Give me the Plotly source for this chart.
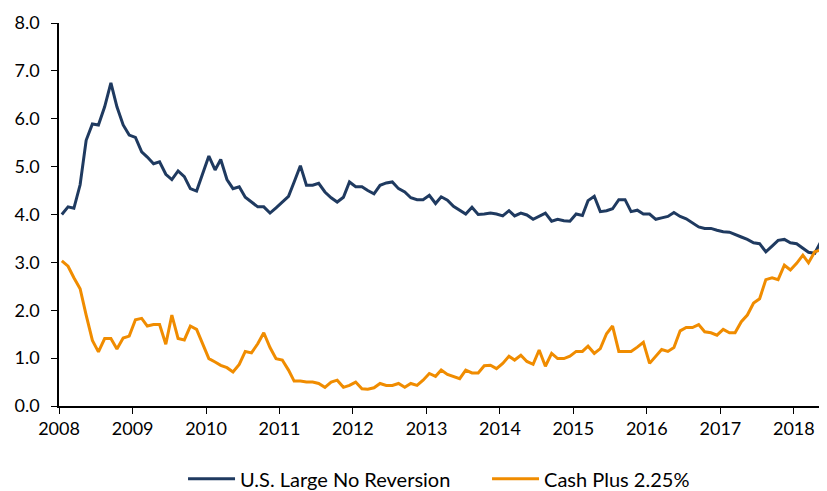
import plotly.graph_objects as go
import pandas as pd

# === 資料 (月資料 2008-01 ~ 2018-06) ===
months = pd.date_range("2008-01-01", periods=126, freq="MS") + pd.Timedelta(days=14)

us_large = [
    4.00, 4.16, 4.13, 4.62, 5.55, 5.89, 5.87, 6.25, 6.75, 6.25, 5.87, 5.66, 5.61, 5.31, 5.20, 5.06, 5.10, 4.84, 4.73, 4.91, 4.79, 4.54, 4.49, 4.86, 5.22,
    4.93, 5.15, 4.73, 4.54, 4.58, 4.36, 4.26, 4.16, 4.16, 4.03, 4.14, 4.26, 4.38, 4.68, 5.02, 4.61, 4.61, 4.65, 4.47, 4.35, 4.26, 4.36, 4.68, 4.58, 4.58,
    4.50, 4.43, 4.61, 4.66, 4.68, 4.54, 4.47, 4.35, 4.31, 4.31, 4.40, 4.23, 4.37, 4.30, 4.17, 4.08, 4.01, 4.15, 4.00, 4.01, 4.03, 4.01, 3.97, 4.08, 3.97,
    4.03, 3.99, 3.90, 3.96, 4.03, 3.86, 3.90, 3.87, 3.86, 4.01, 3.98, 4.29, 4.38, 4.06, 4.08, 4.12, 4.31, 4.31, 4.06, 4.09, 4.01, 4.01, 3.90, 3.93, 3.96, 4.04,
    3.96, 3.91, 3.83, 3.74, 3.71, 3.71, 3.67, 3.64, 3.63, 3.59, 3.53, 3.48, 3.41, 3.39, 3.22, 3.34, 3.46, 3.48, 3.41, 3.39, 3.29, 3.21, 3.19, 3.43, 3.43,
]

cash_plus = [
    3.03, 2.92, 2.68, 2.45, 1.90, 1.37, 1.13, 1.41, 1.41, 1.19, 1.42, 1.46, 1.80, 1.83, 1.67, 1.70, 1.70, 1.29, 1.90, 1.41, 1.38, 1.67, 1.60, 1.29, 0.99,
    0.92, 0.85, 0.80, 0.71, 0.87, 1.14, 1.11, 1.30, 1.53, 1.22, 0.99, 0.96, 0.75, 0.52, 0.52, 0.50, 0.50, 0.47, 0.39, 0.50, 0.54, 0.39, 0.43, 0.50, 0.36,
    0.35, 0.38, 0.47, 0.43, 0.43, 0.47, 0.39, 0.47, 0.43, 0.54, 0.68, 0.62, 0.75, 0.66, 0.62, 0.57, 0.75, 0.69, 0.69, 0.84, 0.85, 0.78, 0.89, 1.04, 0.96,
    1.06, 0.93, 0.87, 1.17, 0.83, 1.10, 0.99, 0.99, 1.04, 1.14, 1.14, 1.25, 1.10, 1.20, 1.51, 1.67, 1.14, 1.14, 1.14, 1.23, 1.33, 0.89, 1.03, 1.18, 1.14, 1.22,
    1.57, 1.64, 1.64, 1.70, 1.55, 1.53, 1.48, 1.60, 1.53, 1.53, 1.76, 1.90, 2.15, 2.24, 2.64, 2.68, 2.64, 2.94, 2.84, 2.98, 3.15, 2.99, 3.22, 3.26, 3.05,
]

names = ["U.S. Large No Reversion", "Cash Plus 2.25%"]
line_colors = ["#1f3a60", "#f08c00"]

fig = go.Figure()
for name, vals, c in zip(names, [us_large, cash_plus], line_colors):
    fig.add_trace(go.Scatter(x=months, y=vals, mode="lines", name=name,
                             line=dict(color=c, width=3)))

font_f = "Lato, Calibri, Arial, sans-serif"

fig.update_xaxes(
    range=[pd.Timestamp("2008-01-01"), months[-1]],
    dtick="M12", tick0="2008-01-01", tickformat="%Y",
    showgrid=False, zeroline=False, automargin=False,
    showline=True, linecolor="black", linewidth=1.5,
    ticks="outside", ticklen=6, tickcolor="black",
    tickfont=dict(size=18, color="black", family=font_f),
)
fig.update_yaxes(
    range=[0, 8], dtick=1, tickformat=".1f",
    showgrid=False, zeroline=False, automargin=False,
    showline=True, linecolor="black", linewidth=1.5,
    ticks="outside", ticklen=6, tickcolor="black", ticklabelstandoff=8,
    tickfont=dict(size=18, color="black", family=font_f),
)

# 頁面本身有 8px 邊距 -> 圖縮 8px
fig.update_layout(
    width=819, height=483,
    margin=dict(l=51, r=0, t=15, b=85, autoexpand=False),
    paper_bgcolor="white", plot_bgcolor="white",
    font=dict(family=font_f, color="black"),
    legend=dict(orientation="h", x=0.1615, xanchor="left", y=-0.19, yanchor="middle",
                entrywidth=242, itemwidth=47,
                font=dict(size=20, color="black", family=font_f)),
)

fig.write_html("out.html")
